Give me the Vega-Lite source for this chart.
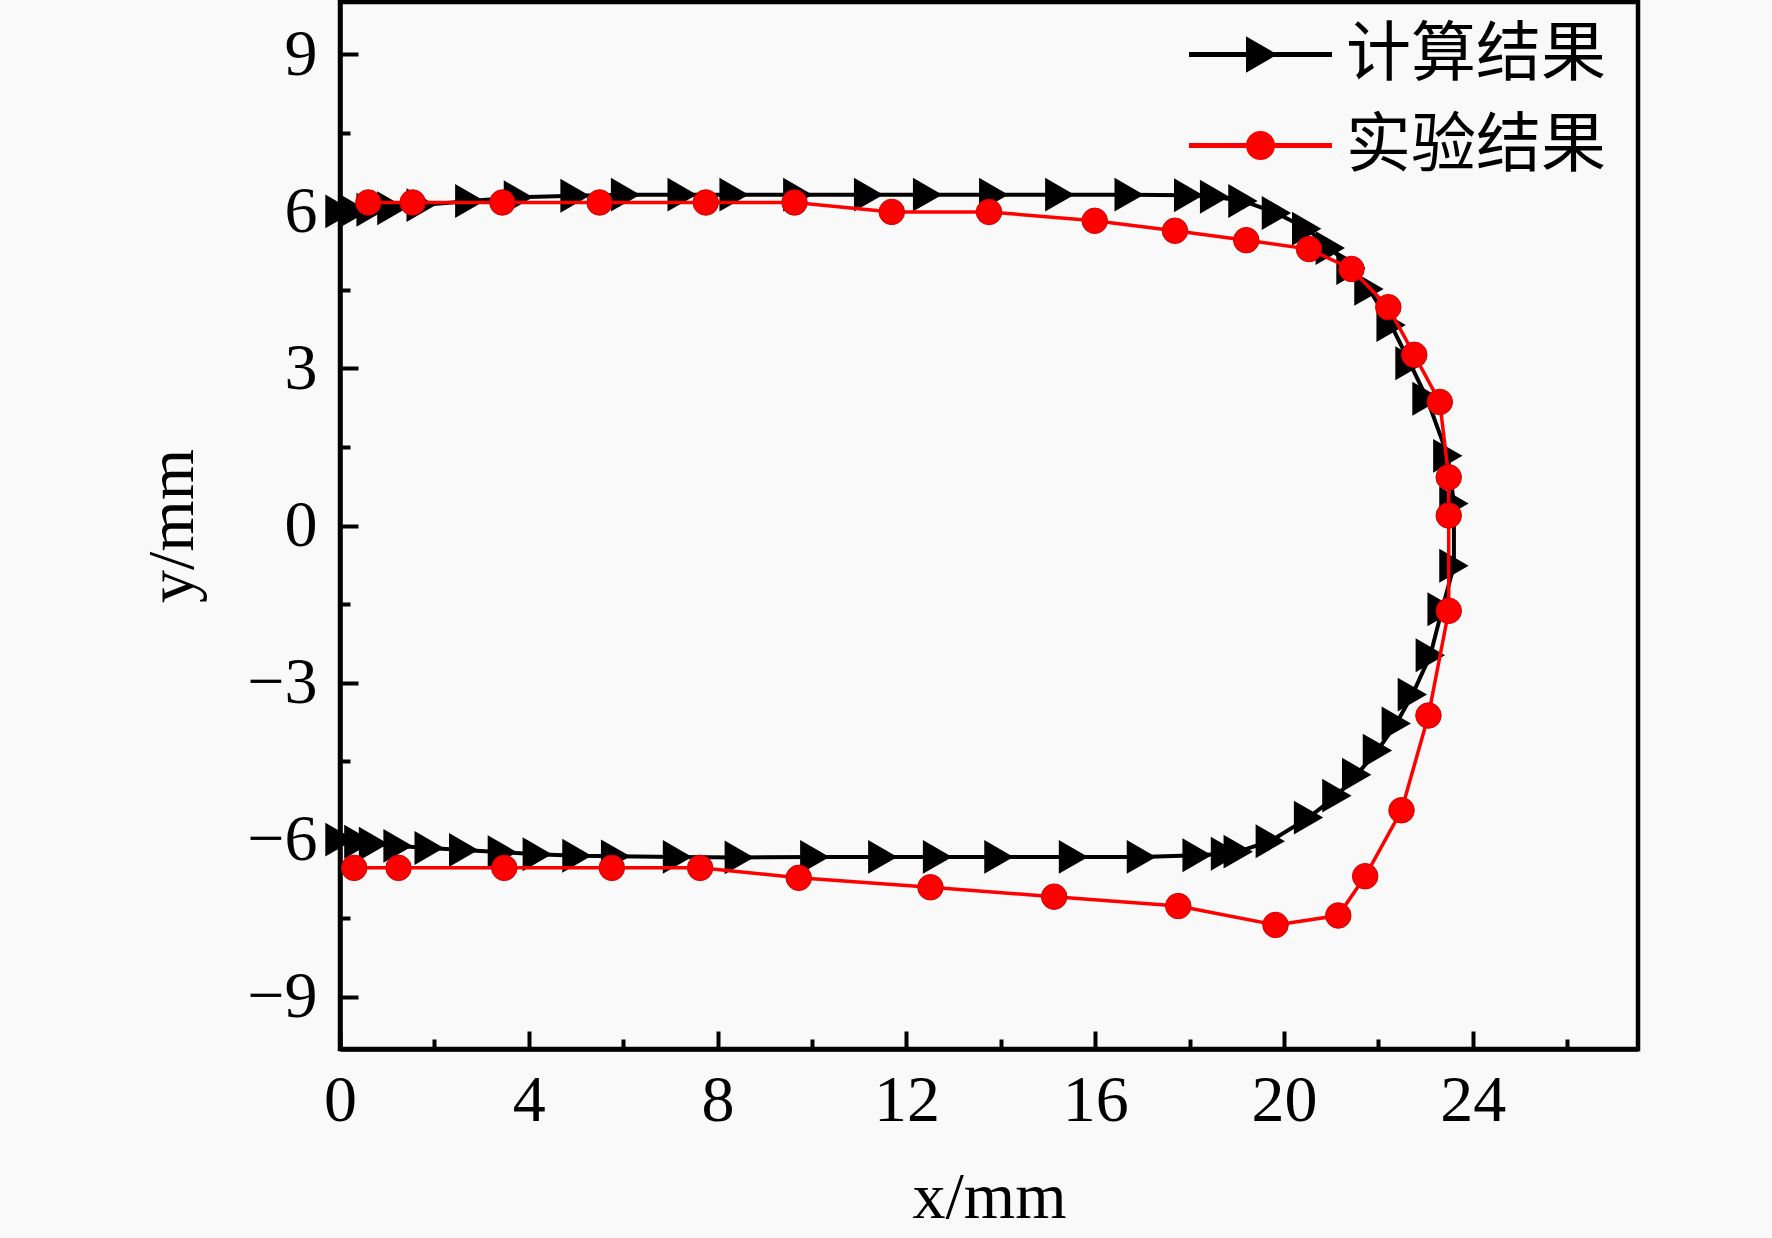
{
  "$schema": "https://vega.github.io/schema/vega-lite/v6.json",
  "width": 1298,
  "height": 1047,
  "autosize": {"type": "none"},
  "padding": {"left": 340, "top": 2, "right": 134, "bottom": 189},
  "background": "#f9f9f9",
  "config": {
    "view": {"stroke": "black", "strokeWidth": 4.5},
    "font": "'Liberation Serif', 'Times New Roman', serif",
    "axis": {
      "grid": false,
      "labelFlush": false,
      "domainColor": "black",
      "domainWidth": 4.5,
      "tickColor": "black",
      "tickWidth": 4,
      "labelColor": "black",
      "labelFont": "'Liberation Serif', 'Times New Roman', serif",
      "labelFontSize": 66,
      "titleColor": "black",
      "titleFont": "'Liberation Serif', 'Times New Roman', serif",
      "titleFontSize": 66,
      "titleFontWeight": "normal"
    }
  },
  "datasets": {
    "calc": [
      {"i": 1, "x": 0, "y": 6.0},
      {"i": 2, "x": 0.3, "y": 6.01},
      {"i": 3, "x": 0.66, "y": 6.03},
      {"i": 4, "x": 1.1, "y": 6.06},
      {"i": 5, "x": 1.72, "y": 6.12},
      {"i": 6, "x": 2.75, "y": 6.2},
      {"i": 7, "x": 3.78, "y": 6.27},
      {"i": 8, "x": 4.98, "y": 6.3},
      {"i": 9, "x": 6.05, "y": 6.32},
      {"i": 10, "x": 7.25, "y": 6.32},
      {"i": 11, "x": 8.35, "y": 6.32},
      {"i": 12, "x": 9.7, "y": 6.32},
      {"i": 13, "x": 11.2, "y": 6.32},
      {"i": 14, "x": 12.45, "y": 6.32},
      {"i": 15, "x": 13.85, "y": 6.32},
      {"i": 16, "x": 15.25, "y": 6.32},
      {"i": 17, "x": 16.72, "y": 6.32},
      {"i": 18, "x": 17.98, "y": 6.31},
      {"i": 19, "x": 18.53, "y": 6.28},
      {"i": 20, "x": 19.13, "y": 6.2},
      {"i": 21, "x": 19.84, "y": 5.97},
      {"i": 22, "x": 20.48, "y": 5.67},
      {"i": 23, "x": 20.98, "y": 5.3},
      {"i": 24, "x": 21.42, "y": 4.92},
      {"i": 25, "x": 21.8, "y": 4.52},
      {"i": 26, "x": 22.27, "y": 3.83},
      {"i": 27, "x": 22.67, "y": 3.1},
      {"i": 28, "x": 23.03, "y": 2.42},
      {"i": 29, "x": 23.47, "y": 1.33},
      {"i": 30, "x": 23.6, "y": 0.42},
      {"i": 31, "x": 23.6, "y": -0.77},
      {"i": 32, "x": 23.35, "y": -1.6},
      {"i": 33, "x": 23.1, "y": -2.48},
      {"i": 34, "x": 22.72, "y": -3.23},
      {"i": 35, "x": 22.38, "y": -3.78},
      {"i": 36, "x": 21.98, "y": -4.3},
      {"i": 37, "x": 21.54, "y": -4.76},
      {"i": 38, "x": 21.12, "y": -5.16},
      {"i": 39, "x": 20.52, "y": -5.58},
      {"i": 40, "x": 19.71, "y": -6.03},
      {"i": 41, "x": 19.03, "y": -6.23},
      {"i": 42, "x": 18.76, "y": -6.27},
      {"i": 43, "x": 18.16, "y": -6.3},
      {"i": 44, "x": 16.98, "y": -6.33},
      {"i": 45, "x": 15.54, "y": -6.33},
      {"i": 46, "x": 13.96, "y": -6.33},
      {"i": 47, "x": 12.66, "y": -6.33},
      {"i": 48, "x": 11.5, "y": -6.33},
      {"i": 49, "x": 10.06, "y": -6.33},
      {"i": 50, "x": 8.46, "y": -6.34},
      {"i": 51, "x": 7.15, "y": -6.33},
      {"i": 52, "x": 5.84, "y": -6.32},
      {"i": 53, "x": 5.02, "y": -6.31},
      {"i": 54, "x": 4.18, "y": -6.28},
      {"i": 55, "x": 3.44, "y": -6.24},
      {"i": 56, "x": 2.62, "y": -6.2},
      {"i": 57, "x": 1.89, "y": -6.16},
      {"i": 58, "x": 1.23, "y": -6.12},
      {"i": 59, "x": 0.71, "y": -6.08},
      {"i": 60, "x": 0.4, "y": -6.04},
      {"i": 61, "x": 0, "y": -6.0}
    ],
    "exp": [
      {"i": 1, "x": 0.6, "y": 6.17},
      {"i": 2, "x": 1.54, "y": 6.17},
      {"i": 3, "x": 3.44, "y": 6.17},
      {"i": 4, "x": 5.5, "y": 6.17},
      {"i": 5, "x": 7.75, "y": 6.17},
      {"i": 6, "x": 9.63, "y": 6.17},
      {"i": 7, "x": 11.69, "y": 5.99},
      {"i": 8, "x": 13.75, "y": 5.99},
      {"i": 9, "x": 15.99, "y": 5.82},
      {"i": 10, "x": 17.69, "y": 5.63},
      {"i": 11, "x": 19.2, "y": 5.45},
      {"i": 12, "x": 20.53, "y": 5.28},
      {"i": 13, "x": 21.43, "y": 4.9},
      {"i": 14, "x": 22.21, "y": 4.17},
      {"i": 15, "x": 22.76, "y": 3.26},
      {"i": 16, "x": 23.3, "y": 2.36},
      {"i": 17, "x": 23.49, "y": 0.92},
      {"i": 18, "x": 23.49, "y": 0.19},
      {"i": 19, "x": 23.49, "y": -1.63},
      {"i": 20, "x": 23.06, "y": -3.63},
      {"i": 21, "x": 22.49, "y": -5.44},
      {"i": 22, "x": 21.72, "y": -6.7},
      {"i": 23, "x": 21.15, "y": -7.45},
      {"i": 24, "x": 19.82, "y": -7.63},
      {"i": 25, "x": 17.76, "y": -7.27},
      {"i": 26, "x": 15.13, "y": -7.09},
      {"i": 27, "x": 12.51, "y": -6.91},
      {"i": 28, "x": 9.72, "y": -6.73},
      {"i": 29, "x": 7.63, "y": -6.54},
      {"i": 30, "x": 5.76, "y": -6.54},
      {"i": 31, "x": 3.48, "y": -6.54},
      {"i": 32, "x": 1.24, "y": -6.54},
      {"i": 33, "x": 0.3, "y": -6.54}
    ]
  },
  "resolve": {"axis": {"x": "independent", "y": "independent"}},
  "layer": [
    {
      "data": {"name": "calc"},
      "mark": {"type": "line", "strokeWidth": 4},
      "encoding": {
        "x": {
          "field": "x", "type": "quantitative",
          "scale": {"domain": [0, 27.5], "nice": false, "zero": false},
          "axis": {
            "orient": "bottom", "values": [0, 4, 8, 12, 16, 20, 24], "format": "d",
            "tickSize": -18, "labelPadding": 37, "title": "x/mm", "titlePadding": 32
          }
        },
        "y": {
          "field": "y", "type": "quantitative",
          "scale": {"domain": [-10, 10], "nice": false, "zero": false},
          "axis": {
            "orient": "left", "values": [-9, -6, -3, 0, 3, 6, 9], "format": "d",
            "tickSize": -18, "labelPadding": 41, "title": "y/mm", "titlePadding": 40
          }
        },
        "order": {"field": "i", "type": "quantitative"},
        "color": {
          "datum": "计算结果",
          "scale": {"domain": ["计算结果", "实验结果"], "range": ["black", "red"]},
          "legend": {
            "orient": "none", "legendX": 888, "legendY": 20, "title": null, "padding": 0,
            "labelFont": "Noto Sans CJK SC", "labelFontSize": 65, "labelColor": "black", "labelLimit": 600,
            "symbolSize": 1024, "symbolStrokeWidth": 5, "labelOffset": 53, "rowPadding": 25,
            "encode": {
              "symbols": {
                "update": {
                  "shape": {"signal": "datum.value === '计算结果' ? 'M-4.47,0L4.47,0M-0.75,-0.87L0.75,0L-0.75,0.87Z' : 'M-4.47,0L4.47,0M0.75,0A0.75,0.75,0,1,1,-0.75,0A0.75,0.75,0,1,1,0.75,0Z'"},
                  "fill": {"signal": "datum.value === '计算结果' ? 'black' : 'red'"},
                  "stroke": {"signal": "datum.value === '计算结果' ? 'black' : 'red'"},
                  "opacity": {"value": 1},
                  "fillOpacity": {"value": 1},
                  "strokeOpacity": {"value": 1}
                }
              }
            }
          }
        }
      }
    },
    {
      "data": {"name": "calc"},
      "mark": {"type": "point", "shape": "triangle-right", "filled": true, "size": 1150, "opacity": 1},
      "encoding": {
        "x": {"field": "x", "type": "quantitative", "axis": null},
        "y": {"field": "y", "type": "quantitative", "axis": null},
        "color": {"datum": "计算结果"}
      }
    },
    {
      "data": {"name": "exp"},
      "mark": {"type": "line", "strokeWidth": 3.5},
      "encoding": {
        "x": {
          "field": "x", "type": "quantitative",
          "axis": {
            "orient": "bottom", "values": [2, 6, 10, 14, 18, 22, 26],
            "tickSize": -10, "labels": false, "domain": false, "title": null
          }
        },
        "y": {
          "field": "y", "type": "quantitative",
          "axis": {
            "orient": "left", "values": [-7.5, -4.5, -1.5, 1.5, 4.5, 7.5],
            "tickSize": -10, "labels": false, "domain": false, "title": null
          }
        },
        "order": {"field": "i", "type": "quantitative"},
        "color": {"datum": "实验结果"}
      }
    },
    {
      "data": {"name": "exp"},
      "mark": {"type": "point", "shape": "circle", "filled": true, "size": 650, "opacity": 1, "stroke": "#d00000", "strokeWidth": 1},
      "encoding": {
        "x": {"field": "x", "type": "quantitative", "axis": null},
        "y": {"field": "y", "type": "quantitative", "axis": null},
        "color": {"datum": "实验结果"}
      }
    }
  ]
}
